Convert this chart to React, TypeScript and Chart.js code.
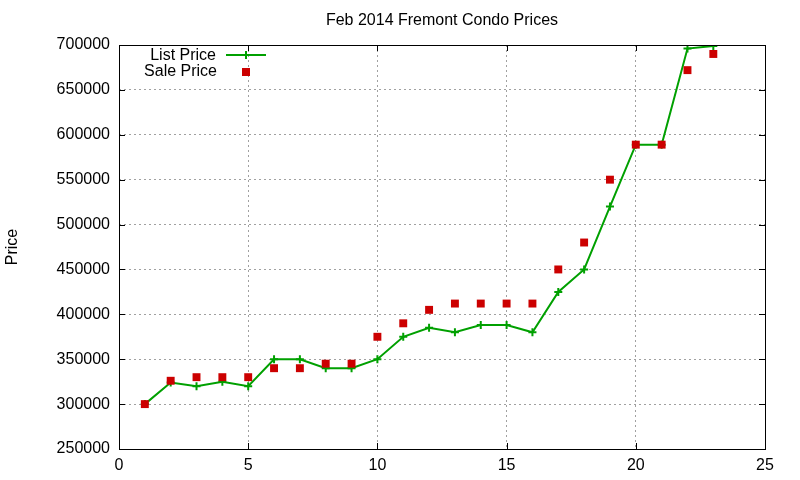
import { useEffect, useRef } from "react";
import { Chart, registerables } from "chart.js";

Chart.register(...registerables);

const days = [1, 2, 3, 4, 5, 6, 7, 8, 9, 10, 11, 12, 13, 14, 15, 16, 17, 18, 19, 20, 21, 22, 23];
const listPrice = [300000, 324000, 320000, 325000, 320000, 350000, 350000, 340000, 340000, 350000, 375000, 385000, 380000, 388000, 388000, 380000, 425000, 450000, 520000, 589000, 589000, 696000, 699000];
const salePrice = [300000, 326000, 330000, 330000, 330000, 340000, 340000, 345000, 345000, 375000, 390000, 405000, 412000, 412000, 412000, 412000, 450000, 480000, 550000, 589000, 589000, 672000, 690000];
const titleText = "Feb 2014 Fremont Condo Prices";

const FONT = "Liberation Sans, Arial, sans-serif";
const GREEN = "#00a000";
const RED = "#cc0000";

// gnuplot-ish frame: full border box, inward ticks, title and legend inside the plot
const framePlugin = {
  id: "frame",
  afterDraw(chart: Chart) {
    const { ctx, chartArea: a, scales } = chart;
    ctx.save();
    ctx.strokeStyle = "#000";
    ctx.lineWidth = 1;
    ctx.strokeRect(Math.round(a.left) + 0.5, Math.round(a.top) + 0.5, Math.round(a.right - a.left), Math.round(a.bottom - a.top));
    ctx.beginPath();
    for (const t of scales.x.ticks) {
      const px = Math.round(scales.x.getPixelForValue(t.value)) + 0.5;
      ctx.moveTo(px, a.bottom); ctx.lineTo(px, a.bottom - 6);
      ctx.moveTo(px, a.top); ctx.lineTo(px, a.top + 6);
    }
    for (const t of scales.y.ticks) {
      const py = Math.round(scales.y.getPixelForValue(t.value)) + 0.5;
      ctx.moveTo(a.left, py); ctx.lineTo(a.left + 6, py);
      ctx.moveTo(a.right, py); ctx.lineTo(a.right - 6, py);
    }
    ctx.stroke();

    ctx.fillStyle = "#000";
    ctx.font = `16px ${FONT}`;
    ctx.textBaseline = "middle";
    ctx.textAlign = "center";
    ctx.fillText(titleText, (a.left + a.right) / 2, 21);

    ctx.textAlign = "right";
    ctx.fillText(chart.data.datasets[1].label as string, 216, 56);
    ctx.fillText(chart.data.datasets[0].label as string, 217, 72);
    ctx.strokeStyle = GREEN;
    ctx.lineWidth = 2;
    ctx.beginPath();
    ctx.moveTo(226, 55); ctx.lineTo(266, 55);
    ctx.moveTo(246, 51); ctx.lineTo(246, 59);
    ctx.stroke();
    ctx.fillStyle = RED;
    ctx.fillRect(242, 68, 8, 8);
    ctx.restore();
  },
};

export default function App() {
  const canvasRef = useRef<HTMLCanvasElement>(null);
  const chartRef = useRef<Chart | null>(null);

  useEffect(() => {
    document.body.style.margin = "0";
    if (!canvasRef.current) return;
    chartRef.current?.destroy();

    chartRef.current = new Chart(canvasRef.current, {
      type: "scatter",
      data: {
        datasets: [
          {
            label: "Sale Price",
            data: days.map((d, i) => ({ x: d, y: salePrice[i] })),
            showLine: false,
            pointStyle: "rect",
            pointRadius: 5.6,
            pointBorderWidth: 0,
            backgroundColor: RED,
            borderColor: RED,
          },
          {
            label: "List Price",
            data: days.map((d, i) => ({ x: d, y: listPrice[i] })),
            showLine: true,
            borderColor: GREEN,
            borderWidth: 2,
            pointStyle: "cross",
            pointRadius: 4,
            pointBorderWidth: 2,
            pointBorderColor: GREEN,
          },
        ],
      },
      options: {
        responsive: true,
        maintainAspectRatio: false,
        animation: false,
        layout: { padding: { top: 45, right: 35, left: 0, bottom: 0 } },
        plugins: {
          legend: { display: false },
          title: { display: false },
          tooltip: { enabled: false },
        },
        scales: {
          x: {
            type: "linear",
            min: 0,
            max: 25,
            ticks: { stepSize: 5, color: "#000", padding: 7, font: { family: FONT, size: 16 } },
            grid: { color: "#a0a0a0", drawTicks: false, tickLength: 0 },
            border: { display: false, dash: [2, 3] },
            afterFit: (s) => { s.height = 31; },
          },
          y: {
            min: 250000,
            max: 700000,
            ticks: {
              stepSize: 50000,
              color: "#000",
              padding: 9,
              font: { family: FONT, size: 16 },
              callback: (v) => String(v),
            },
            grid: { color: "#a0a0a0", drawTicks: false, tickLength: 0 },
            border: { display: false, dash: [2, 3] },
            title: { display: true, text: "Price", color: "#000", padding: { top: 3, bottom: 4 }, font: { family: FONT, size: 16 } },
            afterFit: (s) => { s.width = 119; },
          },
        },
      },
      plugins: [framePlugin],
    });

    return () => { chartRef.current?.destroy(); };
  }, []);

  return <div style={{ width: "800px", height: "480px" }}><canvas ref={canvasRef} /></div>;
}
